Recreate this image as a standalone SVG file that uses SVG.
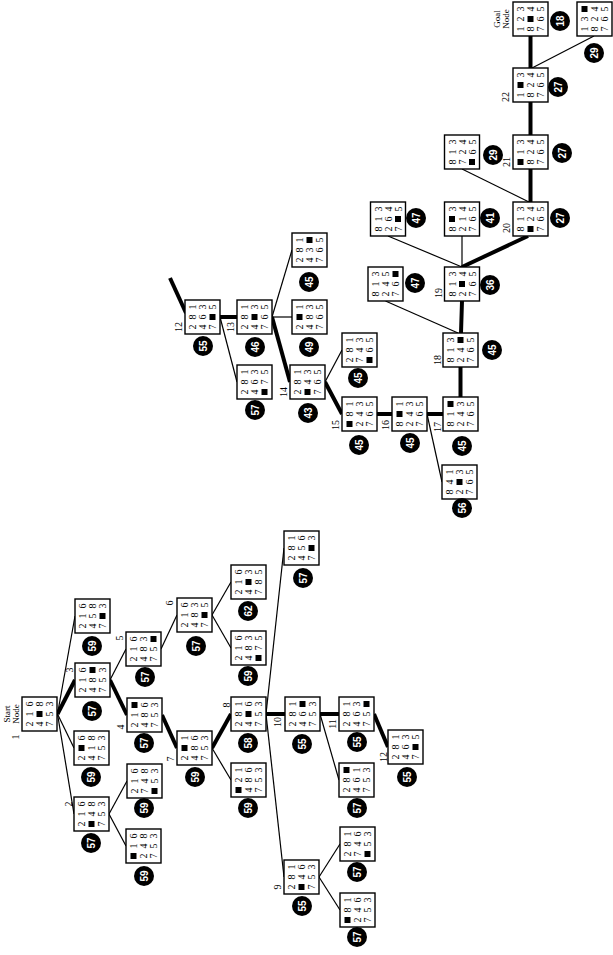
<svg xmlns="http://www.w3.org/2000/svg" xmlns:xlink="http://www.w3.org/1999/xlink" width="613" height="955" viewBox="0 0 613 955">
<style>
.b{fill:#fff;stroke:#000;stroke-width:1.4}
.t{font-family:"Liberation Serif",serif;font-size:10px;text-anchor:middle;fill:#000}
.c{fill:#000}
.ct{font-family:"Liberation Sans",sans-serif;font-size:10px;font-weight:bold;text-anchor:middle;fill:#fff}
.lb{font-family:"Liberation Serif",serif;font-size:10px;text-anchor:middle;fill:#000}
.nm{font-family:"Liberation Serif",serif;font-size:9px;text-anchor:middle;fill:#000}
.thin{stroke:#000;stroke-width:1.2;fill:none}
.thick{stroke:#000;stroke-width:4;fill:none}
</style>
<defs>
<rect id="bl" x="-3" y="-3" width="6" height="6" fill="#000"/>
</defs>
<rect width="613" height="955" fill="#fff"/>
<g id="connectors">
<line class="thin" x1="57.5" y1="714" x2="75" y2="616"/>
<line class="thick" x1="57.5" y1="714" x2="75" y2="680"/>
<line class="thin" x1="57.5" y1="714" x2="74" y2="748"/>
<line class="thin" x1="57.5" y1="714" x2="74" y2="814"/>
<line class="thin" x1="110" y1="680" x2="126" y2="649"/>
<line class="thick" x1="110" y1="680" x2="127" y2="715"/>
<line class="thin" x1="109" y1="814" x2="127" y2="781"/>
<line class="thin" x1="109" y1="814" x2="126" y2="846"/>
<line class="thin" x1="161" y1="649" x2="177" y2="615"/>
<line class="thick" x1="162" y1="715" x2="177" y2="748"/>
<line class="thin" x1="212" y1="615" x2="231" y2="582"/>
<line class="thin" x1="212" y1="615" x2="231" y2="648"/>
<line class="thick" x1="212" y1="748" x2="231" y2="714"/>
<line class="thin" x1="212" y1="748" x2="231" y2="780"/>
<line class="thin" x1="266" y1="714" x2="284" y2="548"/>
<line class="thick" x1="266" y1="714" x2="285" y2="714"/>
<line class="thin" x1="266" y1="714" x2="284" y2="877"/>
<line class="thick" x1="320" y1="714" x2="339" y2="714"/>
<line class="thin" x1="320" y1="714" x2="339" y2="780"/>
<line class="thin" x1="319" y1="877" x2="340" y2="844"/>
<line class="thin" x1="319" y1="877" x2="340" y2="910"/>
<line class="thick" x1="374" y1="714" x2="388" y2="747"/>
<line class="thick" x1="170" y1="278" x2="186" y2="313"/>
<line class="thick" x1="220" y1="317" x2="237" y2="317"/>
<line class="thin" x1="220" y1="317" x2="237" y2="382"/>
<line class="thin" x1="272" y1="317" x2="292" y2="250"/>
<line class="thin" x1="272" y1="317" x2="292" y2="317"/>
<line class="thick" x1="272" y1="317" x2="290" y2="382"/>
<line class="thin" x1="325" y1="382" x2="342" y2="350"/>
<line class="thick" x1="325" y1="382" x2="342" y2="414"/>
<line class="thick" x1="377" y1="414" x2="392" y2="414"/>
<line class="thick" x1="427" y1="414" x2="443" y2="414"/>
<line class="thin" x1="427" y1="414" x2="442" y2="482"/>
<line class="thick" x1="460.5" y1="397" x2="460.5" y2="367"/>
<line class="thick" x1="461" y1="333" x2="462" y2="301"/>
<line class="thin" x1="458" y1="333" x2="385.5" y2="301"/>
<line class="thick" x1="462" y1="267" x2="528" y2="236"/>
<line class="thin" x1="462" y1="267" x2="462" y2="236"/>
<line class="thin" x1="462" y1="267" x2="388" y2="236"/>
<line class="thick" x1="530.5" y1="202" x2="530.5" y2="169"/>
<line class="thin" x1="529" y1="202" x2="462" y2="169"/>
<line class="thick" x1="530.5" y1="135" x2="530.5" y2="102"/>
<line class="thick" x1="530.5" y1="68" x2="530.5" y2="36"/>
<line class="thin" x1="532" y1="68" x2="594" y2="36"/>
</g>

<g id="n1"><g transform="translate(39.5,714) rotate(-90)"><rect class="b" x="-17" y="-17.5" width="34" height="35"/><text class="t" x="-10 0 10" y="-6.5">216</text><text class="t" x="-10 10" y="3.5">48</text><use href="#bl" x="0" y="0"/><text class="t" x="-10 0 10" y="13.5">753</text><text class="nm" y="-29.5">Start</text><text class="nm" y="-20.5">Node</text></g><text class="lb" transform="translate(15,737) rotate(-90)" y="3.5">1</text></g>

<g id="nd1"><g transform="translate(92.5,616) rotate(-90)"><rect class="b" x="-17" y="-17.5" width="34" height="35"/><text class="t" x="-10 0 10" y="-6.5">216</text><text class="t" x="-10 0 10" y="3.5">458</text><text class="t" x="-10 10" y="13.5">73</text><use href="#bl" x="0" y="10"/></g><g transform="translate(92,646) rotate(-90)"><circle class="c" r="10"/><text class="ct" y="3.5">59</text></g></g>

<g id="n3"><g transform="translate(92.5,680) rotate(-90)"><rect class="b" x="-17" y="-17.5" width="34" height="35"/><text class="t" x="-10 0 10" y="-6.5">216</text><text class="t" x="-10 0" y="3.5">48</text><use href="#bl" x="10" y="0"/><text class="t" x="-10 0 10" y="13.5">753</text></g><g transform="translate(92,711) rotate(-90)"><circle class="c" r="10"/><text class="ct" y="3.5">57</text></g><text class="lb" transform="translate(69,670) rotate(-90)" y="3.5">3</text></g>

<g id="nu1"><g transform="translate(91.5,748) rotate(-90)"><rect class="b" x="-17" y="-17.5" width="34" height="35"/><text class="t" x="-10 10" y="-6.5">26</text><use href="#bl" x="0" y="-10"/><text class="t" x="-10 0 10" y="3.5">418</text><text class="t" x="-10 0 10" y="13.5">753</text></g><g transform="translate(91,777) rotate(-90)"><circle class="c" r="10"/><text class="ct" y="3.5">59</text></g></g>

<g id="n2"><g transform="translate(91.5,814) rotate(-90)"><rect class="b" x="-17" y="-17.5" width="34" height="35"/><text class="t" x="-10 0 10" y="-6.5">216</text><text class="t" x="0 10" y="3.5">48</text><use href="#bl" x="-10" y="0"/><text class="t" x="-10 0 10" y="13.5">753</text></g><g transform="translate(91,843) rotate(-90)"><circle class="c" r="10"/><text class="ct" y="3.5">57</text></g><text class="lb" transform="translate(68,804) rotate(-90)" y="3.5">2</text></g>

<g id="n5"><g transform="translate(143.5,649) rotate(-90)"><rect class="b" x="-17" y="-17.5" width="34" height="35"/><text class="t" x="-10 0 10" y="-6.5">216</text><text class="t" x="-10 0 10" y="3.5">483</text><text class="t" x="-10 0" y="13.5">75</text><use href="#bl" x="10" y="10"/></g><g transform="translate(145,677) rotate(-90)"><circle class="c" r="10"/><text class="ct" y="3.5">57</text></g><text class="lb" transform="translate(119,638) rotate(-90)" y="3.5">5</text></g>

<g id="n4"><g transform="translate(144.5,715) rotate(-90)"><rect class="b" x="-17" y="-17.5" width="34" height="35"/><text class="t" x="-10 0" y="-6.5">21</text><use href="#bl" x="10" y="-10"/><text class="t" x="-10 0 10" y="3.5">486</text><text class="t" x="-10 0 10" y="13.5">753</text></g><g transform="translate(144,743) rotate(-90)"><circle class="c" r="10"/><text class="ct" y="3.5">57</text></g><text class="lb" transform="translate(120,727) rotate(-90)" y="3.5">4</text></g>

<g id="n2d"><g transform="translate(144.5,781) rotate(-90)"><rect class="b" x="-17" y="-17.5" width="34" height="35"/><text class="t" x="-10 0 10" y="-6.5">216</text><text class="t" x="-10 0 10" y="3.5">748</text><text class="t" x="0 10" y="13.5">53</text><use href="#bl" x="-10" y="10"/></g><g transform="translate(144,808) rotate(-90)"><circle class="c" r="10"/><text class="ct" y="3.5">59</text></g></g>

<g id="n2u"><g transform="translate(143.5,846) rotate(-90)"><rect class="b" x="-17" y="-17.5" width="34" height="35"/><text class="t" x="0 10" y="-6.5">16</text><use href="#bl" x="-10" y="-10"/><text class="t" x="-10 0 10" y="3.5">248</text><text class="t" x="-10 0 10" y="13.5">753</text></g><g transform="translate(144,876) rotate(-90)"><circle class="c" r="10"/><text class="ct" y="3.5">59</text></g></g>

<g id="n6"><g transform="translate(194.5,615) rotate(-90)"><rect class="b" x="-17" y="-17.5" width="34" height="35"/><text class="t" x="-10 0 10" y="-6.5">216</text><text class="t" x="-10 0 10" y="3.5">483</text><text class="t" x="-10 10" y="13.5">75</text><use href="#bl" x="0" y="10"/></g><g transform="translate(196,646) rotate(-90)"><circle class="c" r="10"/><text class="ct" y="3.5">57</text></g><text class="lb" transform="translate(169,603) rotate(-90)" y="3.5">6</text></g>

<g id="n7"><g transform="translate(194.5,748) rotate(-90)"><rect class="b" x="-17" y="-17.5" width="34" height="35"/><text class="t" x="-10 10" y="-6.5">21</text><use href="#bl" x="0" y="-10"/><text class="t" x="-10 0 10" y="3.5">486</text><text class="t" x="-10 0 10" y="13.5">753</text></g><g transform="translate(195,777) rotate(-90)"><circle class="c" r="10"/><text class="ct" y="3.5">59</text></g><text class="lb" transform="translate(170,759) rotate(-90)" y="3.5">7</text></g>

<g id="n6u"><g transform="translate(248.5,582) rotate(-90)"><rect class="b" x="-17" y="-17.5" width="34" height="35"/><text class="t" x="-10 0 10" y="-6.5">216</text><text class="t" x="-10 10" y="3.5">43</text><use href="#bl" x="0" y="0"/><text class="t" x="-10 0 10" y="13.5">785</text></g><g transform="translate(248,611) rotate(-90)"><circle class="c" r="10"/><text class="ct" y="3.5">62</text></g></g>

<g id="n6l"><g transform="translate(248.5,648) rotate(-90)"><rect class="b" x="-17" y="-17.5" width="34" height="35"/><text class="t" x="-10 0 10" y="-6.5">216</text><text class="t" x="-10 0 10" y="3.5">483</text><text class="t" x="0 10" y="13.5">75</text><use href="#bl" x="-10" y="10"/></g><g transform="translate(248,676) rotate(-90)"><circle class="c" r="10"/><text class="ct" y="3.5">59</text></g></g>

<g id="n8"><g transform="translate(248.5,714) rotate(-90)"><rect class="b" x="-17" y="-17.5" width="34" height="35"/><text class="t" x="-10 0 10" y="-6.5">281</text><text class="t" x="-10 10" y="3.5">46</text><use href="#bl" x="0" y="0"/><text class="t" x="-10 0 10" y="13.5">753</text></g><g transform="translate(248,743) rotate(-90)"><circle class="c" r="10"/><text class="ct" y="3.5">58</text></g><text class="lb" transform="translate(226,705) rotate(-90)" y="3.5">8</text></g>

<g id="n7l"><g transform="translate(248.5,780) rotate(-90)"><rect class="b" x="-17" y="-17.5" width="34" height="35"/><text class="t" x="0 10" y="-6.5">21</text><use href="#bl" x="-10" y="-10"/><text class="t" x="-10 0 10" y="3.5">486</text><text class="t" x="-10 0 10" y="13.5">753</text></g><g transform="translate(248,808) rotate(-90)"><circle class="c" r="10"/><text class="ct" y="3.5">59</text></g></g>

<g id="n8d"><g transform="translate(301.5,548) rotate(-90)"><rect class="b" x="-17" y="-17.5" width="34" height="35"/><text class="t" x="-10 0 10" y="-6.5">281</text><text class="t" x="-10 0 10" y="3.5">456</text><text class="t" x="-10 10" y="13.5">73</text><use href="#bl" x="0" y="10"/></g><g transform="translate(303,578) rotate(-90)"><circle class="c" r="10"/><text class="ct" y="3.5">57</text></g></g>

<g id="n10"><g transform="translate(302.5,714) rotate(-90)"><rect class="b" x="-17" y="-17.5" width="34" height="35"/><text class="t" x="-10 0 10" y="-6.5">281</text><text class="t" x="-10 0" y="3.5">46</text><use href="#bl" x="10" y="0"/><text class="t" x="-10 0 10" y="13.5">753</text></g><g transform="translate(302,744) rotate(-90)"><circle class="c" r="10"/><text class="ct" y="3.5">55</text></g><text class="lb" transform="translate(277,722) rotate(-90)" y="3.5">10</text></g>

<g id="n9"><g transform="translate(301.5,877) rotate(-90)"><rect class="b" x="-17" y="-17.5" width="34" height="35"/><text class="t" x="-10 0 10" y="-6.5">281</text><text class="t" x="0 10" y="3.5">46</text><use href="#bl" x="-10" y="0"/><text class="t" x="-10 0 10" y="13.5">753</text></g><g transform="translate(302,906) rotate(-90)"><circle class="c" r="10"/><text class="ct" y="3.5">55</text></g><text class="lb" transform="translate(277,887) rotate(-90)" y="3.5">9</text></g>

<g id="n11"><g transform="translate(356.5,714) rotate(-90)"><rect class="b" x="-17" y="-17.5" width="34" height="35"/><text class="t" x="-10 0 10" y="-6.5">281</text><text class="t" x="-10 0 10" y="3.5">463</text><text class="t" x="-10 0" y="13.5">75</text><use href="#bl" x="10" y="10"/></g><g transform="translate(357,742) rotate(-90)"><circle class="c" r="10"/><text class="ct" y="3.5">55</text></g><text class="lb" transform="translate(332,724) rotate(-90)" y="3.5">11</text></g>

<g id="n10u"><g transform="translate(356.5,780) rotate(-90)"><rect class="b" x="-17" y="-17.5" width="34" height="35"/><text class="t" x="-10 0" y="-6.5">28</text><use href="#bl" x="10" y="-10"/><text class="t" x="-10 0 10" y="3.5">461</text><text class="t" x="-10 0 10" y="13.5">753</text></g><g transform="translate(357,808) rotate(-90)"><circle class="c" r="10"/><text class="ct" y="3.5">57</text></g></g>

<g id="n9d"><g transform="translate(357.5,844) rotate(-90)"><rect class="b" x="-17" y="-17.5" width="34" height="35"/><text class="t" x="-10 0 10" y="-6.5">281</text><text class="t" x="-10 0 10" y="3.5">746</text><text class="t" x="0 10" y="13.5">53</text><use href="#bl" x="-10" y="10"/></g><g transform="translate(357,872) rotate(-90)"><circle class="c" r="10"/><text class="ct" y="3.5">57</text></g></g>

<g id="n9u"><g transform="translate(357.5,910) rotate(-90)"><rect class="b" x="-17" y="-17.5" width="34" height="35"/><text class="t" x="0 10" y="-6.5">81</text><use href="#bl" x="-10" y="-10"/><text class="t" x="-10 0 10" y="3.5">246</text><text class="t" x="-10 0 10" y="13.5">753</text></g><g transform="translate(357,937) rotate(-90)"><circle class="c" r="10"/><text class="ct" y="3.5">57</text></g></g>

<g id="n12"><g transform="translate(405.5,747) rotate(-90)"><rect class="b" x="-17" y="-17.5" width="34" height="35"/><text class="t" x="-10 0 10" y="-6.5">281</text><text class="t" x="-10 0 10" y="3.5">463</text><text class="t" x="-10 10" y="13.5">75</text><use href="#bl" x="0" y="10"/></g><g transform="translate(407,777) rotate(-90)"><circle class="c" r="10"/><text class="ct" y="3.5">55</text></g><text class="lb" transform="translate(383,757) rotate(-90)" y="3.5">12</text></g>

<g id="n12r"><g transform="translate(202.5,317) rotate(-90)"><rect class="b" x="-17" y="-17.5" width="34" height="35"/><text class="t" x="-10 0 10" y="-6.5">281</text><text class="t" x="-10 0 10" y="3.5">463</text><text class="t" x="-10 10" y="13.5">75</text><use href="#bl" x="0" y="10"/></g><g transform="translate(203,346) rotate(-90)"><circle class="c" r="10"/><text class="ct" y="3.5">55</text></g><text class="lb" transform="translate(178,327) rotate(-90)" y="3.5">12</text></g>

<g id="n13"><g transform="translate(254.5,317) rotate(-90)"><rect class="b" x="-17" y="-17.5" width="34" height="35"/><text class="t" x="-10 0 10" y="-6.5">281</text><text class="t" x="-10 10" y="3.5">43</text><use href="#bl" x="0" y="0"/><text class="t" x="-10 0 10" y="13.5">765</text></g><g transform="translate(255,347) rotate(-90)"><circle class="c" r="10"/><text class="ct" y="3.5">46</text></g><text class="lb" transform="translate(230,327) rotate(-90)" y="3.5">13</text></g>

<g id="n12rl"><g transform="translate(254.5,382) rotate(-90)"><rect class="b" x="-17" y="-17.5" width="34" height="35"/><text class="t" x="-10 0 10" y="-6.5">281</text><text class="t" x="-10 0 10" y="3.5">463</text><text class="t" x="0 10" y="13.5">75</text><use href="#bl" x="-10" y="10"/></g><g transform="translate(255,410) rotate(-90)"><circle class="c" r="10"/><text class="ct" y="3.5">57</text></g></g>

<g id="n13r"><g transform="translate(309.5,250) rotate(-90)"><rect class="b" x="-17" y="-17.5" width="34" height="35"/><text class="t" x="-10 0 10" y="-6.5">281</text><text class="t" x="-10 0" y="3.5">43</text><use href="#bl" x="10" y="0"/><text class="t" x="-10 0 10" y="13.5">765</text></g><g transform="translate(309,282) rotate(-90)"><circle class="c" r="10"/><text class="ct" y="3.5">45</text></g></g>

<g id="n13u"><g transform="translate(309.5,317) rotate(-90)"><rect class="b" x="-17" y="-17.5" width="34" height="35"/><text class="t" x="-10 10" y="-6.5">21</text><use href="#bl" x="0" y="-10"/><text class="t" x="-10 0 10" y="3.5">483</text><text class="t" x="-10 0 10" y="13.5">765</text></g><g transform="translate(309,347) rotate(-90)"><circle class="c" r="10"/><text class="ct" y="3.5">49</text></g></g>

<g id="n14"><g transform="translate(307.5,382) rotate(-90)"><rect class="b" x="-17" y="-17.5" width="34" height="35"/><text class="t" x="-10 0 10" y="-6.5">281</text><text class="t" x="0 10" y="3.5">43</text><use href="#bl" x="-10" y="0"/><text class="t" x="-10 0 10" y="13.5">765</text></g><g transform="translate(308,413) rotate(-90)"><circle class="c" r="10"/><text class="ct" y="3.5">43</text></g><text class="lb" transform="translate(283,392) rotate(-90)" y="3.5">14</text></g>

<g id="n14d"><g transform="translate(359.5,350) rotate(-90)"><rect class="b" x="-17" y="-17.5" width="34" height="35"/><text class="t" x="-10 0 10" y="-6.5">281</text><text class="t" x="-10 0 10" y="3.5">743</text><text class="t" x="0 10" y="13.5">65</text><use href="#bl" x="-10" y="10"/></g><g transform="translate(358,378) rotate(-90)"><circle class="c" r="10"/><text class="ct" y="3.5">45</text></g></g>

<g id="n15"><g transform="translate(359.5,414) rotate(-90)"><rect class="b" x="-17" y="-17.5" width="34" height="35"/><text class="t" x="0 10" y="-6.5">81</text><use href="#bl" x="-10" y="-10"/><text class="t" x="-10 0 10" y="3.5">243</text><text class="t" x="-10 0 10" y="13.5">765</text></g><g transform="translate(359,445) rotate(-90)"><circle class="c" r="10"/><text class="ct" y="3.5">45</text></g><text class="lb" transform="translate(335,425) rotate(-90)" y="3.5">15</text></g>

<g id="n16"><g transform="translate(409.5,414) rotate(-90)"><rect class="b" x="-17" y="-17.5" width="34" height="35"/><text class="t" x="-10 10" y="-6.5">81</text><use href="#bl" x="0" y="-10"/><text class="t" x="-10 0 10" y="3.5">243</text><text class="t" x="-10 0 10" y="13.5">765</text></g><g transform="translate(410,443) rotate(-90)"><circle class="c" r="10"/><text class="ct" y="3.5">45</text></g><text class="lb" transform="translate(385,425) rotate(-90)" y="3.5">16</text></g>

<g id="n17"><g transform="translate(460.5,414) rotate(-90)"><rect class="b" x="-17" y="-17.5" width="34" height="35"/><text class="t" x="-10 0" y="-6.5">81</text><use href="#bl" x="10" y="-10"/><text class="t" x="-10 0 10" y="3.5">243</text><text class="t" x="-10 0 10" y="13.5">765</text></g><g transform="translate(462,446) rotate(-90)"><circle class="c" r="10"/><text class="ct" y="3.5">45</text></g><text class="lb" transform="translate(437,427) rotate(-90)" y="3.5">17</text></g>

<g id="n16d"><g transform="translate(459.5,482) rotate(-90)"><rect class="b" x="-17" y="-17.5" width="34" height="35"/><text class="t" x="-10 0 10" y="-6.5">841</text><text class="t" x="-10 10" y="3.5">23</text><use href="#bl" x="0" y="0"/><text class="t" x="-10 0 10" y="13.5">765</text></g><g transform="translate(462,508) rotate(-90)"><circle class="c" r="10"/><text class="ct" y="3.5">56</text></g></g>

<g id="n18"><g transform="translate(460.5,350) rotate(-90)"><rect class="b" x="-17" y="-17.5" width="34" height="35"/><text class="t" x="-10 0 10" y="-6.5">813</text><text class="t" x="-10 0" y="3.5">24</text><use href="#bl" x="10" y="0"/><text class="t" x="-10 0 10" y="13.5">765</text></g><g transform="translate(492,350) rotate(-90)"><circle class="c" r="10"/><text class="ct" y="3.5">45</text></g><text class="lb" transform="translate(437,360) rotate(-90)" y="3.5">18</text></g>

<g id="n18d"><g transform="translate(385.5,284) rotate(-90)"><rect class="b" x="-17" y="-17.5" width="34" height="35"/><text class="t" x="-10 0 10" y="-6.5">813</text><text class="t" x="-10 0 10" y="3.5">245</text><text class="t" x="-10 0" y="13.5">76</text><use href="#bl" x="10" y="10"/></g><g transform="translate(415,283) rotate(-90)"><circle class="c" r="10"/><text class="ct" y="3.5">47</text></g></g>

<g id="n19"><g transform="translate(462,284) rotate(-90)"><rect class="b" x="-17" y="-17.5" width="34" height="35"/><text class="t" x="-10 0 10" y="-6.5">813</text><text class="t" x="-10 10" y="3.5">24</text><use href="#bl" x="0" y="0"/><text class="t" x="-10 0 10" y="13.5">765</text></g><g transform="translate(490,285) rotate(-90)"><circle class="c" r="10"/><text class="ct" y="3.5">36</text></g><text class="lb" transform="translate(438,293) rotate(-90)" y="3.5">19</text></g>

<g id="n19d"><g transform="translate(388,219) rotate(-90)"><rect class="b" x="-17" y="-17.5" width="34" height="35"/><text class="t" x="-10 0 10" y="-6.5">813</text><text class="t" x="-10 0 10" y="3.5">264</text><text class="t" x="-10 10" y="13.5">75</text><use href="#bl" x="0" y="10"/></g><g transform="translate(416,218) rotate(-90)"><circle class="c" r="10"/><text class="ct" y="3.5">47</text></g></g>

<g id="n19u"><g transform="translate(462,219) rotate(-90)"><rect class="b" x="-17" y="-17.5" width="34" height="35"/><text class="t" x="-10 10" y="-6.5">83</text><use href="#bl" x="0" y="-10"/><text class="t" x="-10 0 10" y="3.5">214</text><text class="t" x="-10 0 10" y="13.5">765</text></g><g transform="translate(490,218) rotate(-90)"><circle class="c" r="10"/><text class="ct" y="3.5">41</text></g></g>

<g id="n20"><g transform="translate(530.5,219) rotate(-90)"><rect class="b" x="-17" y="-17.5" width="34" height="35"/><text class="t" x="-10 0 10" y="-6.5">813</text><text class="t" x="0 10" y="3.5">24</text><use href="#bl" x="-10" y="0"/><text class="t" x="-10 0 10" y="13.5">765</text></g><g transform="translate(560,218) rotate(-90)"><circle class="c" r="10"/><text class="ct" y="3.5">27</text></g><text class="lb" transform="translate(506,228) rotate(-90)" y="3.5">20</text></g>

<g id="n20d"><g transform="translate(462,152) rotate(-90)"><rect class="b" x="-17" y="-17.5" width="34" height="35"/><text class="t" x="-10 0 10" y="-6.5">813</text><text class="t" x="-10 0 10" y="3.5">724</text><text class="t" x="0 10" y="13.5">65</text><use href="#bl" x="-10" y="10"/></g><g transform="translate(493,155) rotate(-90)"><circle class="c" r="10"/><text class="ct" y="3.5">29</text></g></g>

<g id="n21"><g transform="translate(530.5,152) rotate(-90)"><rect class="b" x="-17" y="-17.5" width="34" height="35"/><text class="t" x="0 10" y="-6.5">13</text><use href="#bl" x="-10" y="-10"/><text class="t" x="-10 0 10" y="3.5">824</text><text class="t" x="-10 0 10" y="13.5">765</text></g><g transform="translate(562,153) rotate(-90)"><circle class="c" r="10"/><text class="ct" y="3.5">27</text></g><text class="lb" transform="translate(506,162) rotate(-90)" y="3.5">21</text></g>

<g id="n22"><g transform="translate(530.5,85) rotate(-90)"><rect class="b" x="-17" y="-17.5" width="34" height="35"/><text class="t" x="-10 10" y="-6.5">13</text><use href="#bl" x="0" y="-10"/><text class="t" x="-10 0 10" y="3.5">824</text><text class="t" x="-10 0 10" y="13.5">765</text></g><g transform="translate(558,87) rotate(-90)"><circle class="c" r="10"/><text class="ct" y="3.5">27</text></g><text class="lb" transform="translate(505,97) rotate(-90)" y="3.5">22</text></g>

<g id="goal"><g transform="translate(530.5,19) rotate(-90)"><rect class="b" x="-17" y="-17.5" width="34" height="35"/><text class="t" x="-10 0 10" y="-6.5">123</text><text class="t" x="-10 10" y="3.5">84</text><use href="#bl" x="0" y="0"/><text class="t" x="-10 0 10" y="13.5">765</text><text class="nm" y="-31">Goal</text><text class="nm" y="-22">Node</text></g><g transform="translate(560,21) rotate(-90)"><circle class="c" r="10"/><text class="ct" y="3.5">18</text></g></g>

<g id="n22r"><g transform="translate(594.5,19) rotate(-90)"><rect class="b" x="-17" y="-17.5" width="34" height="35"/><text class="t" x="-10 0" y="-6.5">13</text><use href="#bl" x="10" y="-10"/><text class="t" x="-10 0 10" y="3.5">824</text><text class="t" x="-10 0 10" y="13.5">765</text></g><g transform="translate(594,53) rotate(-90)"><circle class="c" r="10"/><text class="ct" y="3.5">29</text></g></g>
</svg>
